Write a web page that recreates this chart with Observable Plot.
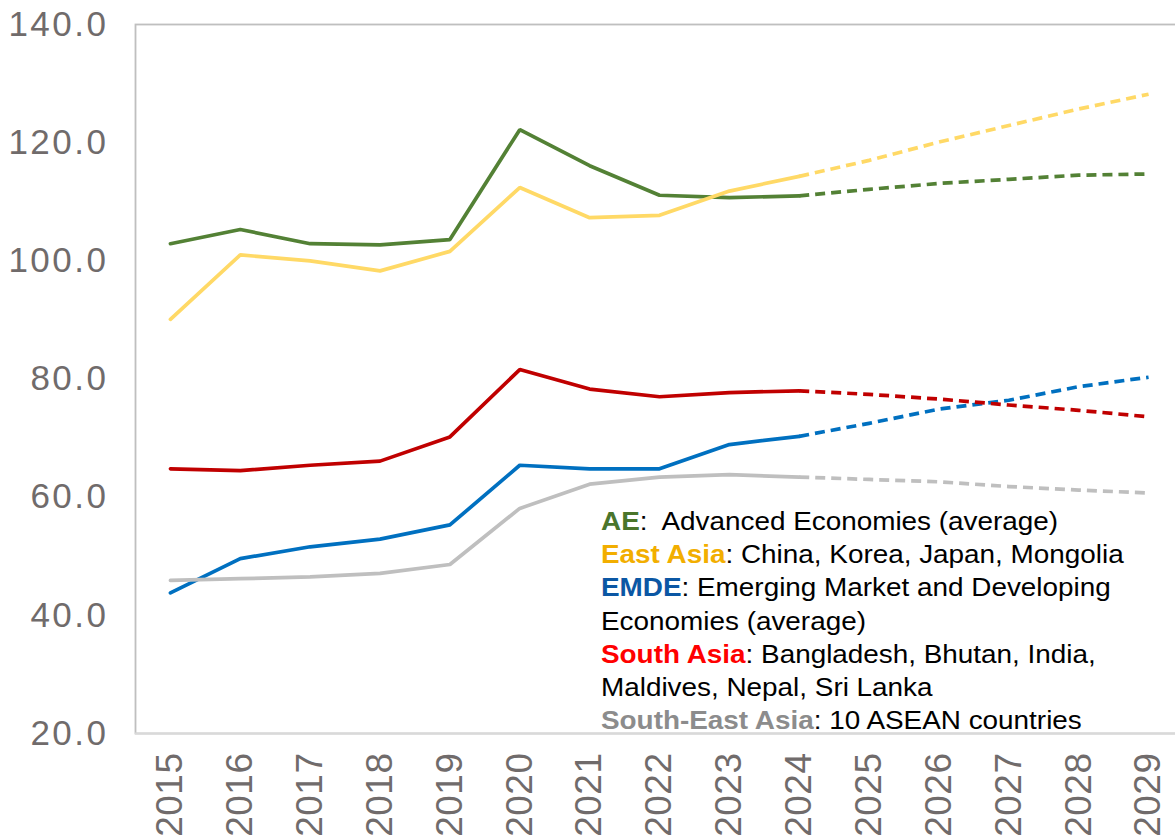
<!DOCTYPE html>
<html>
<head>
<meta charset="utf-8">
<script src="https://cdn.jsdelivr.net/npm/d3@7"></script>
<script src="https://cdn.jsdelivr.net/npm/@observablehq/plot@0.6"></script>
<style>
  html, body { margin: 0; padding: 0; background: #fff; overflow: hidden; }
  #wrap { position: relative; width: 1175px; height: 840px; overflow: hidden; font-family: "Liberation Sans", Arial, sans-serif; }
  #wrap svg { position: absolute; left: 0; top: 0; max-width: none !important; }
  g[aria-label="y-axis tick label"] text { letter-spacing: 2.5px; }
  g[aria-label="x-axis tick label"] text { letter-spacing: 0.5px; }
  #legend { position: absolute; left: 601px; top: 505px; font-size: 25px; line-height: 33.2px; color: #000; transform: scaleX(1.115); transform-origin: 0 0; white-space: nowrap; }
  #legend b { font-weight: bold; }
</style>
</head>
<body>
<div id="wrap"><div id="legend"></div></div>
<script>
const years = ["2015","2016","2017","2018","2019","2020","2021","2022","2023","2024","2025","2026","2027","2028","2029"];
const lastActual = "2024";
const yTicks = [20, 40, 60, 80, 100, 120, 140];

const seriesNames = ["AE", "East Asia", "EMDE", "South Asia", "South-East Asia"];
const seriesColors = ["#538135", "#FFD966", "#0070C0", "#C00000", "#BFBFBF"];
const labelColors = ["#4A752B", "#F2AE00", "#0B57A4", "#FF0000", "#8C8C8C"];
const legendTexts = [
  ":&nbsp; Advanced Economies (average)",
  ": China, Korea, Japan, Mongolia",
  ": Emerging Market and Developing<br>Economies (average)",
  ": Bangladesh, Bhutan, India,<br>Maldives, Nepal, Sri Lanka",
  ": 10 ASEAN countries"
];

const ae        = [102.9, 105.3, 102.9, 102.7, 103.6, 122.2, 116.1, 111.1, 110.7, 111.0, 112.1, 113.1, 113.8, 114.5, 114.7];
const eastAsia  = [90.1, 101.0, 100.0, 98.3, 101.6, 112.4, 107.3, 107.7, 111.8, 114.3, 117.0, 120.1, 122.9, 125.7, 128.2];
const emde      = [43.8, 49.6, 51.6, 52.9, 55.3, 65.4, 64.8, 64.8, 68.9, 70.3, 72.5, 74.9, 76.4, 78.7, 80.3];
const southAsia = [64.8, 64.5, 65.4, 66.1, 70.2, 81.6, 78.3, 77.0, 77.7, 78.0, 77.4, 76.6, 75.6, 74.7, 73.6];
const seAsia    = [45.9, 46.2, 46.5, 47.1, 48.6, 58.1, 62.2, 63.4, 63.8, 63.4, 63.0, 62.6, 61.8, 61.2, 60.7];

const allValues = [ae, eastAsia, emde, southAsia, seAsia];
const cut = years.indexOf(lastActual);

const actual = [], forecast = [];
allValues.forEach((vals, s) => {
  vals.forEach((v, i) => {
    const row = {series: seriesNames[s], year: years[i], value: v};
    if (i <= cut) actual.push(row);
    if (i >= cut) forecast.push(row);
  });
});

const chart = Plot.plot({
  width: 1190,
  height: 840,
  marginLeft: 135,
  marginRight: 7,
  marginTop: 24,
  marginBottom: 107,
  style: {fontFamily: '"Liberation Sans", Arial, sans-serif', background: "transparent", overflow: "visible", maxWidth: "none"},
  x: {type: "point", domain: years, padding: 0.5, round: false, label: null},
  y: {domain: [20, 140], label: null},
  color: {domain: seriesNames, range: seriesColors},
  marks: [
    Plot.frame({stroke: "#BFBFBF", strokeWidth: 1.8}),
    Plot.ruleY([20], {stroke: "#D9D9D9", strokeWidth: 2}),
    Plot.axisY({ticks: yTicks, tickFormat: d => d.toFixed(1), tickSize: 0, tickPadding: 27, fontSize: 35, fill: "#706B6B", label: null}),
    Plot.axisX({tickRotate: -90, tickSize: 0, tickPadding: 19, fontSize: 37, fill: "#706B6B", label: null}),
    Plot.line(forecast, {x: "year", y: "value", z: "series", stroke: "series", strokeWidth: 3.7, strokeDasharray: "10,6", strokeLinecap: "butt"}),
    Plot.line(actual, {x: "year", y: "value", z: "series", stroke: "series", strokeWidth: 3.7, strokeLinejoin: "miter"})
  ]
});

const wrap = document.getElementById("wrap");
wrap.insertBefore(chart, wrap.firstChild);

const legend = document.getElementById("legend");
legend.innerHTML = seriesNames.map((n, i) =>
  `<div><b style="color:${labelColors[i]}">${n}</b>${legendTexts[i]}</div>`
).join("");
</script>
</body>
</html>
